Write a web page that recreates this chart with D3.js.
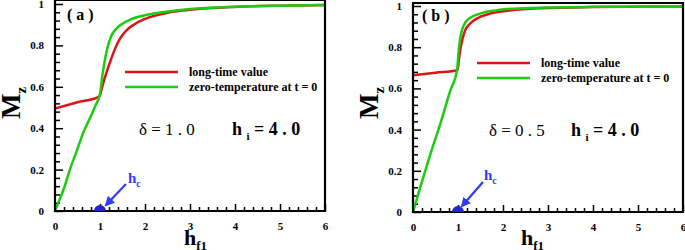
<!DOCTYPE html>
<html><head><meta charset="utf-8">
<script src="https://cdnjs.cloudflare.com/ajax/libs/d3/7.8.5/d3.min.js"></script>
<style>
html,body{margin:0;padding:0;background:#fff;}
svg{display:block;}
text{font-family:"Liberation Serif","Times New Roman",serif;}
</style></head><body>
<svg id="c" width="685" height="250"></svg>
<script>
// ---- data ----
const xTicks = [0,1,2,3,4,5,6];
const yTicks = [0,0.2,0.4,0.6,0.8,1];
const yTickLabels = ["0","0.2","0.4","0.6","0.8","1"];
const legendLabels = ["long-time value","zero-temperature at t = 0"];

// panel (a), delta = 1.0
const hRedA = [0,0.5,0.98,1.0,1.05,1.11,1.2,1.3,1.4,1.5,1.6,1.75,2.0,2.25,2.5,3,4,5,6];
const mRedA = [0.495,0.525,0.553,0.56,0.60,0.645,0.705,0.765,0.815,0.85,0.875,0.90,0.928,0.945,0.958,0.972,0.986,0.992,0.995];
const hGreenA = [0,0.1,0.2,0.33,0.5,0.63,0.78,0.9,1.0,1.05,1.1,1.18,1.25,1.38,1.5,1.67,2.04,2.5,3,4,5,6];
const mGreenA = [0,0.055,0.11,0.2,0.3,0.38,0.45,0.51,0.565,0.65,0.72,0.80,0.845,0.885,0.905,0.925,0.948,0.964,0.976,0.987,0.992,0.995];

// panel (b), delta = 0.5
const hRedB = [0,0.5,0.99,1.02,1.05,1.1,1.16,1.25,1.35,1.5,1.72,2.09,2.83,4,5,6];
const mRedB = [0.664,0.676,0.688,0.74,0.786,0.84,0.883,0.91,0.93,0.948,0.964,0.977,0.989,0.995,0.997,0.998];
const hGreenB = [0,0.16,0.385,0.61,0.83,0.98,1.01,1.07,1.2,1.5,1.87,2.46,3,4,5,6];
const mGreenB = [0,0.12,0.28,0.43,0.59,0.69,0.77,0.867,0.93,0.964,0.98,0.989,0.993,0.996,0.997,0.998];

const panels = [
  {tag:"( a )", delta:"δ = 1 . 0", hi:"4 . 0", hR:hRedA, mR:mRedA, hG:hGreenA, mG:mGreenA,
   x0:55, x1:325, y0:211, y1:4, frameTop:0,
   tagX:67, tagY:20, legX:125, legY:72, dX:139, dY:135, hiX:232, hcX:128, hcY:183,
   arrow:[126,184,106,205], mX:20, mY:103, hX:184},
  {tag:"( b )", delta:"δ = 0 . 5", hi:"4 . 0", hR:hRedB, mR:mRedB, hG:hGreenB, mG:mGreenB,
   x0:413, x1:683, y0:212, y1:6, frameTop:3,
   tagX:422, tagY:21, legX:477, legY:63, dX:489, dY:136, hiX:571, hcX:484, hcY:180,
   arrow:[483,182,462,206], mX:378, mY:103, hX:521}
];

const RED = "#dc1414", GREEN = "#1ccc10", BLUE = "#2f3cff", DARKBLUE = "#2222d8";
const svg = d3.select("#c");
const defs = svg.append("defs");
defs.append("marker").attr("id","arr").attr("viewBox","0 0 10 10").attr("refX",8).attr("refY",5)
  .attr("markerWidth",4.5).attr("markerHeight",4.5).attr("orient","auto")
  .append("path").attr("d","M0,0L10,5L0,10z").attr("fill",BLUE);

panels.forEach((p,i) => {
  const x = d3.scaleLinear().domain([0,6]).range([p.x0,p.x1]);
  const y = d3.scaleLinear().domain([0,1]).range([p.y0,p.y1]);
  const g = svg.append("g");
  const clipId = "clip"+i;
  defs.append("clipPath").attr("id",clipId).append("rect")
    .attr("x",p.x0).attr("y",p.frameTop).attr("width",p.x1-p.x0).attr("height",p.y0-p.frameTop);

  // minor ticks
  const xMinor = d3.range(0,6.001,0.2).filter(v => Math.abs(v-Math.round(v))>1e-6);
  const yMinor = d3.range(0,1.001,0.04).filter(v => Math.abs(v*5-Math.round(v*5))>1e-6);
  g.append("g").attr("transform",`translate(0,${p.y0})`)
    .call(d3.axisBottom(x).tickValues(xMinor).tickSize(-4).tickFormat(""))
    .call(a=>a.select(".domain").remove())
    .selectAll("line").attr("stroke","#000").attr("stroke-width",1.5);
  g.append("g").attr("transform",`translate(${p.x0},0)`)
    .call(d3.axisLeft(y).tickValues(yMinor).tickSize(-5).tickFormat(""))
    .call(a=>a.select(".domain").remove())
    .selectAll("line").attr("stroke","#000").attr("stroke-width",1.5);

  // major axes
  const xa = g.append("g").attr("transform",`translate(0,${p.y0})`)
    .call(d3.axisBottom(x).tickValues(xTicks).tickSize(-7).tickPadding(11).tickFormat(d3.format("d")));
  xa.select(".domain").remove();
  xa.selectAll("line").attr("stroke","#000").attr("stroke-width",1.5);
  xa.selectAll("text").attr("font-family","Liberation Serif").attr("font-weight","bold")
    .attr("font-size",11).attr("fill","#000");
  const ya = g.append("g").attr("transform",`translate(${p.x0},0)`)
    .call(d3.axisLeft(y).tickValues(yTicks).tickSize(-8).tickPadding(11).tickFormat((d,j)=>yTickLabels[j]));
  ya.select(".domain").remove();
  ya.selectAll("line").attr("stroke","#000").attr("stroke-width",1.5);
  ya.selectAll("text").attr("font-family","Liberation Serif").attr("font-weight","bold")
    .attr("font-size",11).attr("fill","#000");

  // curves
  const line = d3.line().x(d=>x(d[0])).y(d=>y(d[1])).curve(d3.curveMonotoneX);
  const cg = g.append("g").attr("clip-path",`url(#${clipId})`);
  cg.append("path").datum(p.hR.map((h,k)=>[h,p.mR[k]])).attr("d",line)
    .attr("fill","none").attr("stroke",RED).attr("stroke-width",2.5);
  cg.append("path").datum(p.hG.map((h,k)=>[h,p.mG[k]])).attr("d",line)
    .attr("fill","none").attr("stroke",GREEN).attr("stroke-width",2.5);

  // frame
  g.append("path").attr("d",`M${p.x0},${p.frameTop}V${p.y0}H${p.x1}V${p.frameTop}Z`)
    .attr("fill","none").attr("stroke","#000").attr("stroke-width",2.2);

  // h_c marker
  const r = 6;
  g.append("path").attr("d",`M${x(1)-r},${p.y0}A${r},${r} 0 0 1 ${x(1)+r},${p.y0}Z`).attr("fill",DARKBLUE);
  g.append("line").attr("x1",p.arrow[0]).attr("y1",p.arrow[1]).attr("x2",p.arrow[2]).attr("y2",p.arrow[3])
    .attr("stroke",BLUE).attr("stroke-width",2.2).attr("marker-end","url(#arr)");
  const hc = g.append("text").attr("x",p.hcX).attr("y",p.hcY).attr("fill",BLUE)
    .attr("font-weight","bold").attr("font-size",15);
  hc.append("tspan").text("h");
  hc.append("tspan").attr("dy",4).attr("font-size",10).text("c");

  // panel tag
  g.append("text").attr("x",p.tagX).attr("y",p.tagY).attr("font-weight","bold").attr("font-size",16)
    .attr("xml:space","preserve").text(p.tag);

  // legend
  [RED,GREEN].forEach((c,k)=>{
    const ly = p.legY + k*15;
    g.append("line").attr("x1",p.legX).attr("x2",p.legX+53).attr("y1",ly).attr("y2",ly)
      .attr("stroke",c).attr("stroke-width",2.5);
    g.append("text").attr("x",p.legX+64).attr("y",ly+4).attr("font-weight","bold").attr("font-size",12)
      .text(legendLabels[k]);
  });

  // annotations
  g.append("text").attr("x",p.dX).attr("y",p.dY).attr("font-size",17).text(p.delta);
  const hi = g.append("text").attr("x",p.hiX).attr("y",p.dY).attr("font-weight","bold").attr("font-size",18);
  hi.append("tspan").text("h ");
  hi.append("tspan").attr("dy",5).attr("font-size",11).text("i");
  hi.append("tspan").attr("dy",-5).text(" = " + p.hi);

  // axis titles
  const mt = g.append("text").attr("transform",`translate(${p.mX},${p.mY}) rotate(-90)`)
    .attr("text-anchor","middle").attr("font-weight","bold").attr("font-size",27);
  mt.append("tspan").text("M");
  mt.append("tspan").attr("dy",6).attr("font-size",15).text("z");
  const ht = g.append("text").attr("x",p.hX).attr("y",245).attr("font-weight","bold").attr("font-size",22);
  ht.append("tspan").text("h");
  ht.append("tspan").attr("dy",5).attr("font-size",13).text("f1");
});
</script>
</body></html>
